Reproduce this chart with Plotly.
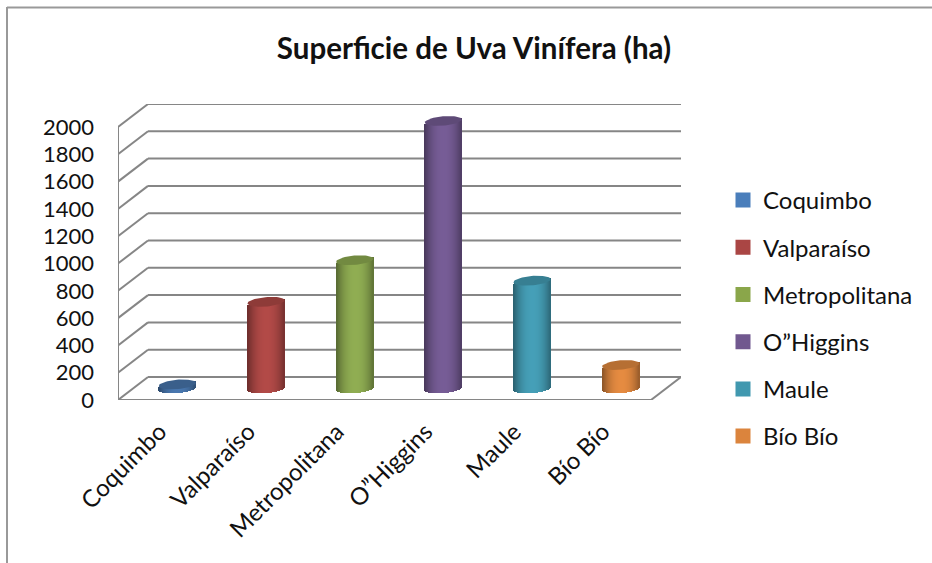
import numpy as np
import plotly.graph_objects as go

categories = ["Coquimbo", "Valparaíso", "Metropolitana", "O”Higgins", "Maule", "Bío Bío"]
values = [30, 635, 940, 1960, 790, 172]
center_colors = ["#4F81BD", "#C0504D", "#9BBB59", "#8064A2", "#4BACC6", "#F79646"]
legend_colors = ["#4A7EBB", "#AA4644", "#8AA64A", "#71588F", "#4198AF", "#DB843D"]
tick_values = list(range(0, 2001, 200))

W, H = 932, 563
L, R, T, B = 118, 681, 104, 400            # plot box in pixels
px_x = 532 / 6                             # pixels per category slot
px_y = 273 / 2000                          # pixels per value unit
dx, dy = 30 / px_x, 23 / px_y              # depth offset of the back wall
x_rng = [-0.5, -0.5 + (R - L) / px_x]
y_rng = [0, (B - T) / px_y]
bar_w = 37 / px_x
rx = bar_w / 2
ry = 4.7 / px_y
tilt = 1.5 / px_y
n_slices = 37
font = "Lato, Carlito, Calibri, sans-serif"


def shade(hex_color, f):
    c = [int(hex_color[i:i + 2], 16) for i in (1, 3, 5)]
    return "rgb(%d,%d,%d)" % tuple(min(255, int(v * f)) for v in c)


fig = go.Figure()
xs = list(range(len(categories)))
mid_x = dx / 2
base0 = dy / 2

# legend carriers, hidden behind the cylinders
for i, name in enumerate(categories):
    fig.add_trace(go.Bar(
        x=[i + mid_x], y=[values[i]], base=[base0], width=[0.02], name=name,
        legendgroup=name, marker=dict(color=legend_colors[i], line=dict(color=legend_colors[i], width=3)),
        hoverinfo="skip", showlegend=True))

# each cylinder is a run of one pixel wide shaded strips
for k in range(n_slices):
    t = (k + 0.5) / n_slices * 2 - 1
    lower = ry * np.sqrt(1 - t * t)
    f = 0.58 + 0.35 * (1 - min(1, abs(t - 0.05)) ** 2.2)
    fig.add_trace(go.Bar(
        x=[i + mid_x for i in xs],
        y=[v + lower + tilt * t for v in values],
        base=[base0 - lower + tilt * t] * len(xs),
        width=[bar_w / n_slices] * len(xs),
        offset=[-rx + k * bar_w / n_slices] * len(xs),
        marker=dict(color=[shade(c, f) for c in center_colors], line=dict(width=0)),
        hoverinfo="skip", showlegend=False))

# top caps
theta = np.linspace(0, 2 * np.pi, 60)
for i, v in enumerate(values):
    fig.add_trace(go.Scatter(
        x=i + mid_x + rx * np.cos(theta),
        y=base0 + v + ry * np.sin(theta) + tilt * np.cos(theta),
        mode="lines", fill="toself", fillcolor=shade(center_colors[i], 0.74),
        line=dict(width=0), hoverinfo="skip", showlegend=False, cliponaxis=False))

# wall and floor lines below the marks
grid = dict(type="line", xref="x", yref="y", layer="below", line=dict(color="#868686", width=2))
x0, x1 = x_rng[0], x_rng[1]
shapes = []
for v in tick_values:
    shapes.append(dict(grid, x0=x0, y0=v, x1=x0 + dx, y1=v + dy))
    shapes.append(dict(grid, x0=x0 + dx, y0=v + dy, x1=x1, y1=v + dy))
shapes.append(dict(grid, x0=x0, y0=0, x1=x0, y1=tick_values[-1]))
shapes.append(dict(grid, x0=x0, y0=0, x1=x1 - dx, y1=0))
shapes.append(dict(grid, x0=x1 - dx, y0=0, x1=x1, y1=dy))

# chart frame
px = lambda p: (p - L) / (R - L)
py = lambda p: (B - p) / (B - T)
frame = dict(type="line", xref="paper", yref="paper", layer="below", line=dict(color="#999999", width=2))
shapes.append(dict(frame, x0=px(7), y0=py(7.5), x1=px(W), y1=py(7.5)))
shapes.append(dict(frame, x0=px(7), y0=py(7), x1=px(7), y1=py(H)))

fig.update_layout(
    width=W, height=H, autosize=False,
    margin=dict(l=L, r=W - R, t=T, b=H - B, pad=0),
    paper_bgcolor="white", plot_bgcolor="white",
    barmode="overlay", bargap=0,
    font=dict(family=font, color="#111111", size=21),
    title=dict(text="<b>Superficie de Uva Vinífera (ha)</b>", font=dict(size=29.5, family=font, color="#111111"),
               x=474 / W, xref="container", xanchor="center",
               y=1 - 49 / H, yref="container", yanchor="middle"),
    xaxis=dict(range=x_rng, tickmode="array", tickvals=[i - 0.03 for i in xs], ticktext=categories, tickangle=-45,
               showgrid=False, zeroline=False, showline=False, ticks="", automargin=False,
               ticklabelstandoff=12, tickfont=dict(size=24, family=font, color="#111111")),
    yaxis=dict(range=y_rng, tickmode="array", tickvals=tick_values, ticktext=[str(v) for v in tick_values],
               showgrid=False, zeroline=False, showline=False, ticks="", automargin=False,
               ticklabelstandoff=23, tickfont=dict(size=22, family=font, color="#111111")),
    legend=dict(x=px(723), xanchor="left", y=py(178), yanchor="top", tracegroupgap=13,
                bgcolor="rgba(0,0,0,0)", font=dict(size=24, family=font, color="#111111"),
                traceorder="grouped"),
    shapes=shapes,
)

fig.write_html("out.html", config=dict(displayModeBar=False),
               post_script="document.body.style.margin='0';document.documentElement.style.overflow='hidden';")
